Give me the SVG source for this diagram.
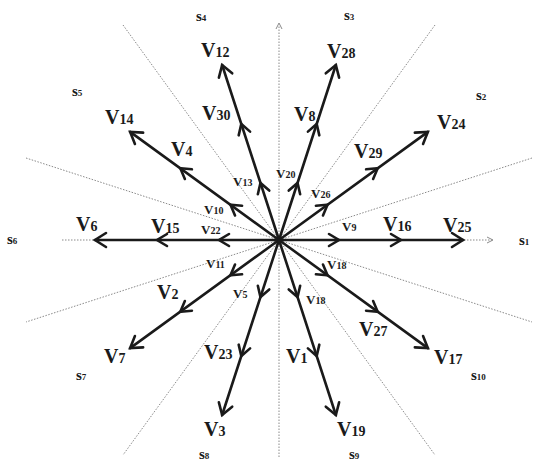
<svg xmlns="http://www.w3.org/2000/svg" width="533" height="464" viewBox="0 0 533 464">
<style>
.ax{stroke:#8a8a8a;stroke-width:1;stroke-dasharray:1.5 1.5;fill:none}
.vec{stroke:#1a1a1a;stroke-width:2.6;fill:none;stroke-linecap:round;stroke-linejoin:miter}
text{font-family:"Liberation Serif","Times New Roman",serif;font-weight:bold;fill:#1a1a1a}
.b{font-size:20px}
.bs{font-size:14px}
.m{font-size:13px}
.ms{font-size:10px}
.s{font-size:15px}
.ss{font-size:9px}
</style>
<defs>
<g id="vecshape">
<line x1="0" y1="0" x2="184" y2="0"/>
<path d="M50,-6 L60,0 L50,6"/>
<path d="M112,-6 L122,0 L112,6"/>
<path d="M173,-7 L184,0 L173,7"/>
</g>
</defs>
<rect width="533" height="464" fill="#fff"/>
<g id="axes">
<line class="ax" x1="62" y1="240" x2="492" y2="240"/>
<path d="M487,237 L493,240 L487,243" fill="none" stroke="#8a8a8a" stroke-width="1"/>
<line class="ax" x1="279" y1="457" x2="279" y2="25"/>
<path d="M276,29 L279,23 L282,29" fill="none" stroke="#8a8a8a" stroke-width="1"/>
<line class="ax" x1="532" y1="158" x2="26" y2="322"/>
<line class="ax" x1="26" y1="158" x2="532" y2="322"/>
<line class="ax" x1="435" y1="25" x2="123" y2="455"/>
<line class="ax" x1="123" y1="25" x2="435" y2="455"/>
</g>
<g id="connectors" class="vec">
<use href="#vecshape" transform="translate(279,240)"/>
<use href="#vecshape" transform="translate(279,240) rotate(-36)"/>
<use href="#vecshape" transform="translate(279,240) rotate(-72)"/>
<use href="#vecshape" transform="translate(279,240) rotate(-108)"/>
<use href="#vecshape" transform="translate(279,240) rotate(-144)"/>
<use href="#vecshape" transform="translate(279,240) rotate(-180)"/>
<use href="#vecshape" transform="translate(279,240) rotate(-216)"/>
<use href="#vecshape" transform="translate(279,240) rotate(-252)"/>
<use href="#vecshape" transform="translate(279,240) rotate(-288)"/>
<use href="#vecshape" transform="translate(279,240) rotate(-324)"/>
</g>
<g id="sectors">
<g id="s1"><text x="519" y="245" class="s">s<tspan class="ss">1</tspan></text></g>
<g id="s2"><text x="476" y="100" class="s">s<tspan class="ss">2</tspan></text></g>
<g id="s3"><text x="344" y="20" class="s">s<tspan class="ss">3</tspan></text></g>
<g id="s4"><text x="196" y="21" class="s">s<tspan class="ss">4</tspan></text></g>
<g id="s5"><text x="72" y="96" class="s">s<tspan class="ss">5</tspan></text></g>
<g id="s6"><text x="7" y="244" class="s">s<tspan class="ss">6</tspan></text></g>
<g id="s7"><text x="76" y="380" class="s">s<tspan class="ss">7</tspan></text></g>
<g id="s8"><text x="199" y="459" class="s">s<tspan class="ss">8</tspan></text></g>
<g id="s9"><text x="349" y="459" class="s">s<tspan class="ss">9</tspan></text></g>
<g id="s10"><text x="471" y="380" class="s">s<tspan class="ss">10</tspan></text></g>
</g>
<g id="labels">
<g id="V25"><text x="443" y="232" class="b">V<tspan class="bs">25</tspan></text></g>
<g id="V16"><text x="383" y="231" class="b">V<tspan class="bs">16</tspan></text></g>
<g id="V9"><text x="342" y="231" class="m">V<tspan class="ms">9</tspan></text></g>
<g id="V24"><text x="437" y="129" class="b">V<tspan class="bs">24</tspan></text></g>
<g id="V29"><text x="354" y="158" class="b">V<tspan class="bs">29</tspan></text></g>
<g id="V26"><text x="311" y="198" class="m">V<tspan class="ms">26</tspan></text></g>
<g id="V28"><text x="327" y="58" class="b">V<tspan class="bs">28</tspan></text></g>
<g id="V8"><text x="294" y="121" class="b">V<tspan class="bs">8</tspan></text></g>
<g id="V20"><text x="276" y="178" class="m">V<tspan class="ms">20</tspan></text></g>
<g id="V12"><text x="201" y="57" class="b">V<tspan class="bs">12</tspan></text></g>
<g id="V30"><text x="202" y="120" class="b">V<tspan class="bs">30</tspan></text></g>
<g id="V13"><text x="233" y="186" class="m">V<tspan class="ms">13</tspan></text></g>
<g id="V14"><text x="105" y="124" class="b">V<tspan class="bs">14</tspan></text></g>
<g id="V4"><text x="171" y="156" class="b">V<tspan class="bs">4</tspan></text></g>
<g id="V10"><text x="204" y="214" class="m">V<tspan class="ms">10</tspan></text></g>
<g id="V6"><text x="76" y="231" class="b">V<tspan class="bs">6</tspan></text></g>
<g id="V15"><text x="151" y="233" class="b">V<tspan class="bs">15</tspan></text></g>
<g id="V22"><text x="201" y="234" class="m">V<tspan class="ms">22</tspan></text></g>
<g id="V11"><text x="206" y="268" class="m">V<tspan class="ms">11</tspan></text></g>
<g id="V2"><text x="157" y="299" class="b">V<tspan class="bs">2</tspan></text></g>
<g id="V7"><text x="104" y="363" class="b">V<tspan class="bs">7</tspan></text></g>
<g id="V5"><text x="233" y="298" class="m">V<tspan class="ms">5</tspan></text></g>
<g id="V23"><text x="204" y="359" class="b">V<tspan class="bs">23</tspan></text></g>
<g id="V3"><text x="204" y="436" class="b">V<tspan class="bs">3</tspan></text></g>
<g id="V18a"><text x="327" y="269" class="m">V<tspan class="ms">18</tspan></text></g>
<g id="V18b"><text x="306" y="304" class="m">V<tspan class="ms">18</tspan></text></g>
<g id="V27"><text x="359" y="336" class="b">V<tspan class="bs">27</tspan></text></g>
<g id="V17"><text x="434" y="364" class="b">V<tspan class="bs">17</tspan></text></g>
<g id="V1"><text x="286" y="363" class="b">V<tspan class="bs">1</tspan></text></g>
<g id="V19"><text x="337" y="436" class="b">V<tspan class="bs">19</tspan></text></g>
</g>
</svg>
